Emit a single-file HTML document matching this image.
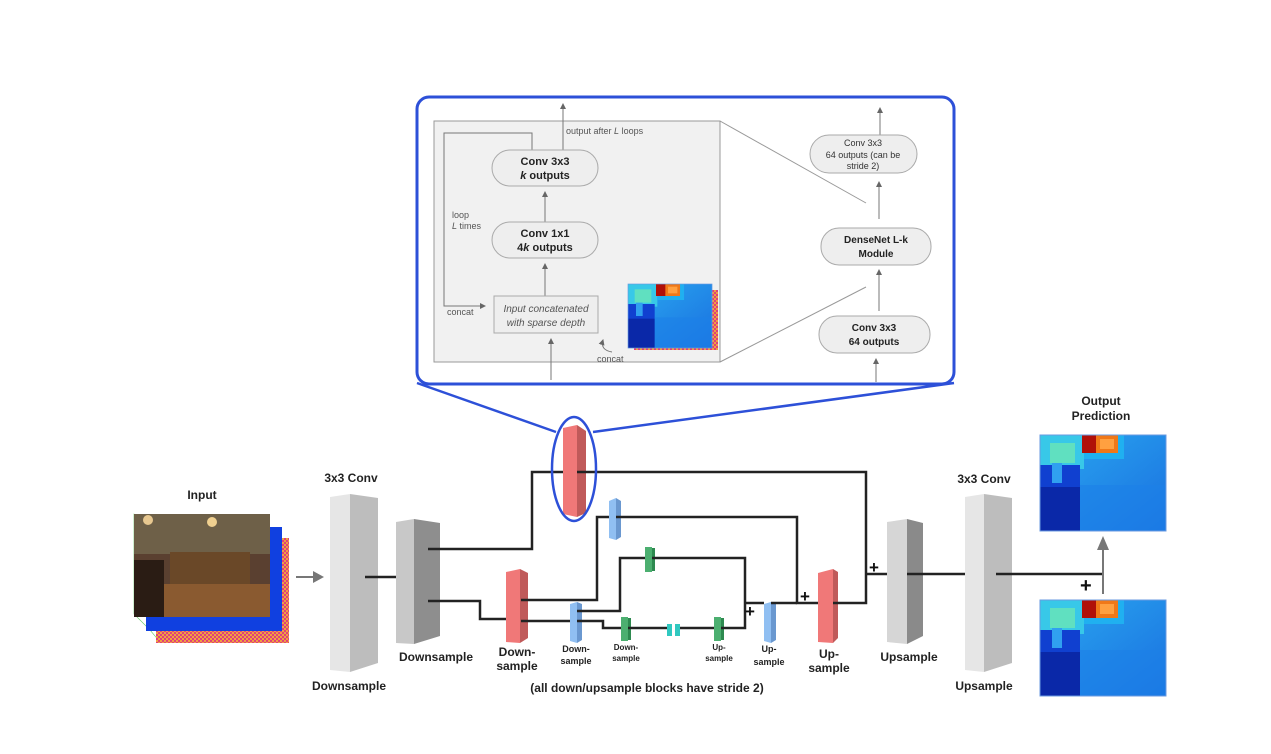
<!DOCTYPE html>
<html><head><meta charset="utf-8"><style>
html,body{margin:0;padding:0;background:#fff;}
svg{display:block;font-family:"Liberation Sans",Arial,sans-serif;}
.b{font-weight:bold;fill:#222;}
</style></head><body>
<svg width="1271" height="754" viewBox="0 0 1271 754" xmlns="http://www.w3.org/2000/svg">
<defs>
<linearGradient id="dg" x1="0" y1="0" x2="1" y2="1"><stop offset="0" stop-color="#2aa8f0"/><stop offset="1" stop-color="#1a70e0"/></linearGradient>
<pattern id="chk" width="4" height="4" patternUnits="userSpaceOnUse"><rect width="4" height="4" fill="#e0407a"/><rect width="2" height="2" fill="#f0a040"/><rect x="2" y="2" width="2" height="2" fill="#f0a040"/></pattern>
<g id="depth">
<rect x="0" y="0" width="126" height="96" fill="url(#dg)"/>
<rect x="0" y="0" width="44" height="34" fill="#38c8e8"/>
<rect x="10" y="8" width="25" height="20" fill="#60e0c0"/>
<rect x="44" y="0" width="40" height="24" fill="#20b0f0"/>
<rect x="42" y="0" width="36" height="18" fill="#f07818"/>
<rect x="42" y="0" width="14" height="18" fill="#b01008"/>
<rect x="60" y="4" width="14" height="10" fill="#ffa040"/>
<rect x="0" y="30" width="40" height="66" fill="#1040d0"/>
<rect x="12" y="28" width="10" height="20" fill="#30a0f0"/>
<rect x="0" y="52" width="40" height="44" fill="#0a28a8"/>
<rect x="40" y="50" width="86" height="46" fill="#1c80e8" opacity="0.6"/>
<rect x="0" y="0" width="126" height="96" fill="none" stroke="#6a9ae0" stroke-width="1"/>
</g>
<marker id="ahs" markerWidth="6" markerHeight="6" refX="5" refY="3" orient="auto" markerUnits="userSpaceOnUse"><path d="M0,0 L6,3 L0,6 z" fill="#666"/></marker>
</defs>

<!-- zoom box -->
<rect x="417" y="97" width="537" height="287" rx="12" fill="#fff" stroke="#2d50d8" stroke-width="3"/>
<rect x="434" y="121" width="286" height="241" fill="#f1f1f1" stroke="#999" stroke-width="1"/>
<line x1="720" y1="121" x2="866" y2="203" stroke="#999"/>
<line x1="720" y1="362" x2="866" y2="287" stroke="#999"/>
<g stroke="#777" stroke-width="1" fill="none" marker-end="url(#ahs)">
<line x1="563" y1="150" x2="563" y2="104"/>
<line x1="545" y1="222" x2="545" y2="192"/>
<line x1="545" y1="296" x2="545" y2="264"/>
<line x1="551" y1="380" x2="551" y2="339"/>
<polyline points="532,150 532,133 444,133 444,306 485,306"/>
<path d="M612,352 Q600,350 603,340"/>
<line x1="880" y1="135" x2="880" y2="108"/>
<line x1="879" y1="219" x2="879" y2="182"/>
<line x1="879" y1="311" x2="879" y2="270"/>
<line x1="876" y1="382" x2="876" y2="359"/>
</g>
<rect x="492" y="150" width="106" height="36" rx="18" fill="#eee" stroke="#aaa"/>
<text x="545" y="165" text-anchor="middle" font-size="11" class="b">Conv 3x3</text>
<text x="545" y="179" text-anchor="middle" font-size="11" class="b"><tspan font-style="italic">k</tspan> outputs</text>
<rect x="492" y="222" width="106" height="36" rx="18" fill="#eee" stroke="#aaa"/>
<text x="545" y="237" text-anchor="middle" font-size="11" class="b">Conv 1x1</text>
<text x="545" y="251" text-anchor="middle" font-size="11" class="b">4<tspan font-style="italic">k</tspan> outputs</text>
<rect x="494" y="296" width="104" height="37" fill="#eee" stroke="#aaa"/>
<text x="546" y="312" text-anchor="middle" font-size="10" font-style="italic" fill="#555">Input concatenated</text>
<text x="546" y="326" text-anchor="middle" font-size="10" font-style="italic" fill="#555">with sparse depth</text>
<text x="566" y="134" font-size="9" fill="#555">output after <tspan font-style="italic">L</tspan> loops</text>
<text x="452" y="218" font-size="9" fill="#555">loop</text>
<text x="452" y="229" font-size="9" fill="#555"><tspan font-style="italic">L</tspan> times</text>
<text x="447" y="315" font-size="9" fill="#555">concat</text>
<text x="597" y="362" font-size="9" fill="#555">concat</text>
<rect x="634" y="290" width="84" height="60" fill="url(#chk)"/>
<g transform="translate(628,284) scale(0.667,0.667)"><use href="#depth"/></g>

<rect x="810" y="135" width="107" height="38" rx="19" fill="#eee" stroke="#aaa"/>
<text x="863" y="146" text-anchor="middle" font-size="9" fill="#333">Conv 3x3</text>
<text x="863" y="158" text-anchor="middle" font-size="9" fill="#333">64 outputs (can be</text>
<text x="863" y="169" text-anchor="middle" font-size="9" fill="#333">stride 2)</text>
<rect x="821" y="228" width="110" height="37" rx="18" fill="#eee" stroke="#aaa"/>
<text x="876" y="243" text-anchor="middle" font-size="10" class="b">DenseNet L-k</text>
<text x="876" y="257" text-anchor="middle" font-size="10" class="b">Module</text>
<rect x="819" y="316" width="111" height="37" rx="18" fill="#eee" stroke="#aaa"/>
<text x="874" y="331" text-anchor="middle" font-size="10" class="b">Conv 3x3</text>
<text x="874" y="345" text-anchor="middle" font-size="10" class="b">64 outputs</text>

<!-- blue callout -->
<line x1="556" y1="432" x2="417" y2="383" stroke="#2d50d8" stroke-width="2.5"/>
<line x1="593" y1="432" x2="954" y2="383" stroke="#2d50d8" stroke-width="2.5"/>

<!-- slabs -->
<polygon points="330,497 350,494 350,672 330,670" fill="#e6e6e6"/>
<polygon points="350,494 378,498 378,663 350,672" fill="#bdbdbd"/>
<polygon points="396,522 414,519 414,644 396,643" fill="#c8c8c8"/>
<polygon points="414,519 440,523 440,636 414,644" fill="#8e8e8e"/>
<polygon points="506,572 520,569 520,643 506,642" fill="#f07878"/>
<polygon points="520,569 528,573 528,638 520,643" fill="#c05a5a"/>
<polygon points="563,428 577,425 577,517 563,514" fill="#f07878"/>
<polygon points="577,425 586,431 586,513 577,517" fill="#c05a5a"/>
<polygon points="609,501 616,498 616,540 609,538" fill="#90bff2"/>
<polygon points="616,498 621,501 621,537 616,540" fill="#6a98d0"/>
<polygon points="570,604 577,602 577,643 570,641" fill="#90bff2"/>
<polygon points="577,602 582,604 582,640 577,643" fill="#6a98d0"/>
<polygon points="764,604 771,602 771,643 764,641" fill="#90bff2"/>
<polygon points="771,602 776,604 776,640 771,643" fill="#6a98d0"/>
<rect x="645" y="547" width="7" height="25" fill="#4caf70"/><rect x="652" y="548" width="3" height="23" fill="#2e8a50"/>
<rect x="621" y="617" width="7" height="24" fill="#4caf70"/><rect x="628" y="618" width="3" height="22" fill="#2e8a50"/>
<rect x="714" y="617" width="7" height="24" fill="#4caf70"/><rect x="721" y="618" width="3" height="22" fill="#2e8a50"/>
<rect x="667" y="624" width="5" height="12" fill="#30c8c0"/><rect x="675" y="624" width="5" height="12" fill="#30c8c0"/>
<polygon points="818,573 833,569 833,643 818,642" fill="#f07878"/>
<polygon points="833,569 838,572 838,638 833,643" fill="#c05a5a"/>
<polygon points="887,522 907,519 907,644 887,642" fill="#d6d6d6"/>
<polygon points="907,519 923,523 923,636 907,644" fill="#8a8a8a"/>
<polygon points="965,497 984,494 984,672 965,670" fill="#e6e6e6"/>
<polygon points="984,494 1012,498 1012,663 984,672" fill="#bdbdbd"/>

<!-- connections (on top of slabs) -->
<g stroke="#222" stroke-width="2.5" fill="none">
<line x1="365" y1="577" x2="396" y2="577"/>
<polyline points="428,549 532,549 532,472 563,472"/>
<polyline points="577,472 866,472 866,603 833,603"/>
<line x1="866" y1="574" x2="887" y2="574"/>
<polyline points="428,601 480,601 480,619 506,619"/>
<polyline points="521,600 597,600 597,517 609,517"/>
<polyline points="616,517 797,517 797,603 818,603"/>
<line x1="521" y1="621" x2="570" y2="621"/>
<polyline points="577,611 620,611 620,558 645,558"/>
<polyline points="652,558 745,558 745,628 721,628"/>
<polyline points="577,621 603,621 603,628 621,628"/>
<line x1="628" y1="628" x2="667" y2="628"/>
<line x1="680" y1="628" x2="714" y2="628"/>
<line x1="745" y1="603" x2="764" y2="603"/>
<line x1="771" y1="603" x2="797" y2="603"/>
<line x1="907" y1="574" x2="965" y2="574"/>
<line x1="996" y1="574" x2="1103" y2="574"/>
</g>
<ellipse cx="574" cy="469" rx="22" ry="52" fill="none" stroke="#2d50d8" stroke-width="2.5"/>
<line x1="1103" y1="594" x2="1103" y2="548" stroke="#777" stroke-width="2"/>
<path d="M1097,550 L1103,536 L1109,550 z" fill="#777"/>
<line x1="296" y1="577" x2="314" y2="577" stroke="#777" stroke-width="2"/>
<path d="M313,571 L324,577 L313,583 z" fill="#777"/>
<g font-size="17" font-weight="bold" fill="#111">
<text x="745" y="617">+</text><text x="800" y="602">+</text><text x="869" y="573">+</text><text x="1080" y="592" font-size="20">+</text>
</g>

<!-- input image -->
<polygon points="134,614 150,630 160,642 160,530 134,514" fill="none" stroke="#6c6" stroke-width="0.6"/>
<rect x="156" y="538" width="133" height="105" fill="url(#chk)"/>
<rect x="146" y="527" width="136" height="104" fill="#1040e0"/>
<rect x="134" y="514" width="136" height="103" fill="#5a4030"/>
<rect x="134" y="514" width="136" height="40" fill="#6e6048"/>
<rect x="170" y="552" width="80" height="32" fill="#6a4828"/>
<rect x="150" y="584" width="120" height="33" fill="#8a5a30"/>
<rect x="134" y="560" width="30" height="57" fill="#2a1c14"/>
<circle cx="212" cy="522" r="5" fill="#f0d090"/><circle cx="148" cy="520" r="5" fill="#e8c890"/>

<g transform="translate(1040,435)"><use href="#depth"/></g>
<g transform="translate(1040,600)"><use href="#depth"/></g>

<!-- labels -->
<g class="b" font-size="12" text-anchor="middle">
<text x="202" y="499">Input</text>
<text x="351" y="482">3x3 Conv</text>
<text x="349" y="690">Downsample</text>
<text x="436" y="661">Downsample</text>
<text x="517" y="656">Down-</text><text x="517" y="670">sample</text>
<text x="576" y="652" font-size="9">Down-</text><text x="576" y="664" font-size="9">sample</text>
<text x="626" y="650" font-size="8">Down-</text><text x="626" y="661" font-size="8">sample</text>
<text x="719" y="650" font-size="8">Up-</text><text x="719" y="661" font-size="8">sample</text>
<text x="769" y="652" font-size="9">Up-</text><text x="769" y="665" font-size="9">sample</text>
<text x="829" y="658">Up-</text><text x="829" y="672">sample</text>
<text x="909" y="661">Upsample</text>
<text x="984" y="483">3x3 Conv</text>
<text x="984" y="690">Upsample</text>
<text x="1101" y="405">Output</text><text x="1101" y="420">Prediction</text>
<text x="647" y="692">(all down/upsample blocks have stride 2)</text>
</g>
</svg>
</body></html>
